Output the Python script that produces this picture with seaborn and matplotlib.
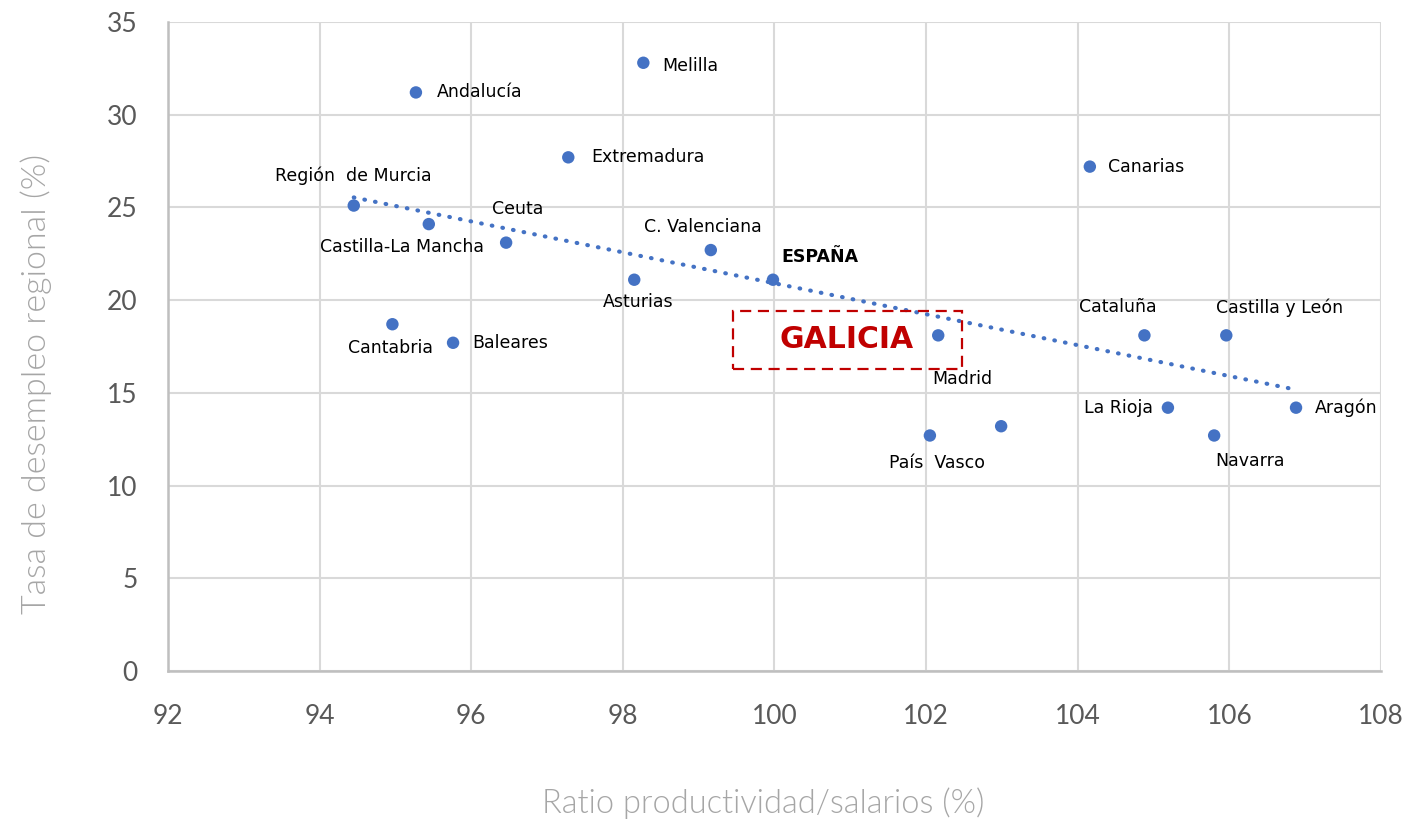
import matplotlib
matplotlib.use("Agg")
import matplotlib.pyplot as plt
import seaborn as sns
import pandas as pd
import numpy as np
from matplotlib.patches import Rectangle

regions = ["Andalucía", "Melilla", "Extremadura", "Canarias", "Región  de Murcia",
           "Castilla-La Mancha", "Ceuta", "C. Valenciana", "ESPAÑA", "Asturias",
           "Cantabria", "Baleares", "Galicia", "Cataluña", "Castilla y León",
           "La Rioja", "Aragón", "Navarra", "País  Vasco", "Madrid"]
ratio = [95.27, 98.27, 97.28, 104.16, 94.45, 95.44, 96.46, 99.16, 99.98, 98.15,
         94.96, 95.76, 102.16, 104.88, 105.96, 105.19, 106.88, 105.80, 102.05, 102.99]
paro = [31.2, 32.8, 27.7, 27.2, 25.1, 24.1, 23.1, 22.7, 21.1, 21.1,
        18.7, 17.7, 18.1, 18.1, 18.1, 14.2, 14.2, 12.7, 12.7, 13.2]
# label offsets in pixels (dx, dy) and horizontal alignment
label_dx = [21, 19, 23, 18, 0, -27, 12, -8, 8, 4, -2, 19, 0, -27, 53, -15, 19, 36, 7, -39]
label_dy = [0, -3, 0, 0, 30, -23, 34, 23, 23, -22, -24, 0, 0, 28, 28, 0, 0, -26, -28, 47]
label_ha = ["left", "left", "left", "left", "center", "center", "center", "center", "left", "center",
            "center", "left", "none", "center", "center", "right", "left", "center", "center", "center"]

xticks = [92, 94, 96, 98, 100, 102, 104, 106, 108]
yticks = [0, 5, 10, 15, 20, 25, 30, 35]
galicia_box_x = [99.45, 102.48]
galicia_box_y = [16.3, 19.4]

df = pd.DataFrame({"region": regions, "ratio": ratio, "paro": paro})

sns.set_theme(style="white")
plt.rcParams["font.family"] = ["DejaVu Sans"]

fig = plt.figure(figsize=(14.12, 8.23), dpi=100)
ax = fig.add_axes([0.119, 0.1847, 0.859, 0.7886])

ax.set_xlim(92, 108)
ax.set_ylim(0, 35)
ax.set_xticks(xticks)
ax.set_yticks(yticks)
ax.grid(True, color="#d9d9d9", linewidth=1.5)
ax.set_axisbelow(True)
for s in ["top", "right"]:
    ax.spines[s].set_visible(False)
for s in ["bottom", "left"]:
    ax.spines[s].set_color("#bfbfbf")
    ax.spines[s].set_linewidth(1.8)

sns.regplot(data=df, x="ratio", y="paro", scatter=False, ci=None, truncate=True, ax=ax,
            line_kws=dict(color="#4472c4", linewidth=3.0, linestyle=(0, (0.15, 2.45)),
                          dash_capstyle="round", zorder=3))
sns.scatterplot(data=df, x="ratio", y="paro", ax=ax, color="#4472c4", s=80,
                edgecolor="none", zorder=4, legend=False)

for name, x, y, dx, dy, ha in zip(regions, ratio, paro, label_dx, label_dy, label_ha):
    if ha == "none":
        continue
    bold = name == "ESPAÑA"
    ax.annotate(name, (x, y), xytext=(dx * 0.72, dy * 0.72), textcoords="offset points",
                ha=ha, va="center", fontsize=12.5, color="black",
                fontweight="bold" if bold else "normal", zorder=5)

ax.add_patch(Rectangle((galicia_box_x[0], galicia_box_y[0]),
                       galicia_box_x[1] - galicia_box_x[0], galicia_box_y[1] - galicia_box_y[0],
                       fill=False, edgecolor="#c00000", linewidth=1.6,
                       linestyle=(0, (5, 3)), zorder=5))
ax.text(galicia_box_x[0] + 1.5, (galicia_box_y[0] + galicia_box_y[1]) / 2 + 0.05, "GALICIA",
        ha="center", va="center", fontsize=21.5, fontweight="bold", color="#c00000", zorder=6)

ax.tick_params(axis="both", length=0, labelsize=19, labelcolor="#595959")
ax.tick_params(axis="y", pad=22)
ax.tick_params(axis="x", pad=24)
for lab in ax.get_xticklabels() + ax.get_yticklabels():
    lab.set_family(["Lato", "DejaVu Sans"])

ax.set_xlabel("Ratio productividad/salarios (%)", fontsize=23.5, color="#a6a6a6",
              family=["Lato", "DejaVu Sans"], fontweight=300)
ax.set_ylabel("Tasa de desempleo regional (%)", fontsize=24.5, color="#a6a6a6",
              family=["Lato", "DejaVu Sans"], fontweight=300)
ax.xaxis.set_label_coords(0.491, -0.18)
ax.yaxis.set_label_coords(-0.0956, 0.442)

fig.savefig("out.png", dpi=100)
